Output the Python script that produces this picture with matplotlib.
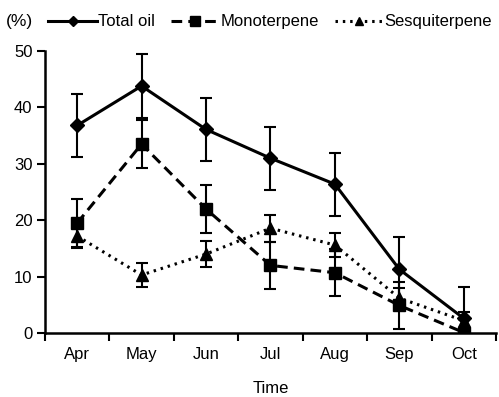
import matplotlib
matplotlib.use("Agg")
import matplotlib.pyplot as plt
from matplotlib.lines import Line2D
import numpy as np

plt.rcParams['font.family'] = ['Liberation Sans', 'DejaVu Sans']

months = ['Apr', 'May', 'Jun', 'Jul', 'Aug', 'Sep', 'Oct']
total_oil = [36.8, 43.8, 36.1, 31.0, 26.4, 11.3, 2.6]
total_err = [5.6, 5.7, 5.6, 5.6, 5.6, 5.7, 5.5]
mono = [19.5, 33.5, 22.0, 12.0, 10.7, 4.9, 0.1]
mono_err = [4.2, 4.3, 4.2, 4.2, 4.2, 4.2, 0.0]
sesq = [17.2, 10.3, 14.0, 18.6, 15.6, 6.2, 2.2]
sesq_err = [2.1, 2.2, 2.3, 2.4, 2.2, 1.8, 1.6]

x = np.arange(len(months))

fig = plt.figure(figsize=(4.99, 3.97), dpi=100)
ax = fig.add_axes([0.090, 0.161, 0.904, 0.7105])

styles = [
    ('Total oil', total_oil, total_err, 'D', 7, '-'),
    ('Monoterpene', mono, mono_err, 's', 9, (0, (3.5, 2))),
    ('Sesquiterpene', sesq, sesq_err, '^', 8, (0, (0.8, 1.6))),
]
handles = []
for name, vals, err, mk, ms, ls in styles:
    ax.errorbar(x, vals, yerr=err, marker=mk, ms=ms, ls=ls, color='black', lw=2.2,
                elinewidth=1.5, capsize=4, capthick=1.5, zorder=3)
    handles.append(Line2D([], [], color='black', lw=2.2, ls=ls, marker=mk, ms=ms - 2))

ax.set_xlim(-0.5, len(months) - 0.5)
ax.set_ylim(0, 50)
ax.set_yticks([0, 10, 20, 30, 40, 50])
ax.set_xticks(x)
ax.set_xticklabels(months)
ax.set_xticks(np.arange(-0.5, len(months)), minor=True)
ax.tick_params(axis='x', which='major', length=0, pad=10, labelsize=12)
ax.tick_params(axis='x', which='minor', length=6, width=1.5, direction='out')
ax.tick_params(axis='y', length=6, width=1.5, direction='out', labelsize=12, pad=3)
for s in ['top', 'right']:
    ax.spines[s].set_visible(False)
for s in ['left', 'bottom']:
    ax.spines[s].set_linewidth(1.8)
ax.set_xlabel('Time', fontsize=12, labelpad=14)

fig.legend(handles, [s[0] for s in styles], loc='center left', bbox_to_anchor=(0.097, 0.945),
           ncol=3, frameon=False, fontsize=12, handlelength=2.9, handletextpad=0.05,
           columnspacing=1.0, borderpad=0, borderaxespad=0)
fig.text(0.012, 0.945, '(%)', fontsize=12.5, va='center', ha='left')

fig.savefig('out.png', dpi=100)
